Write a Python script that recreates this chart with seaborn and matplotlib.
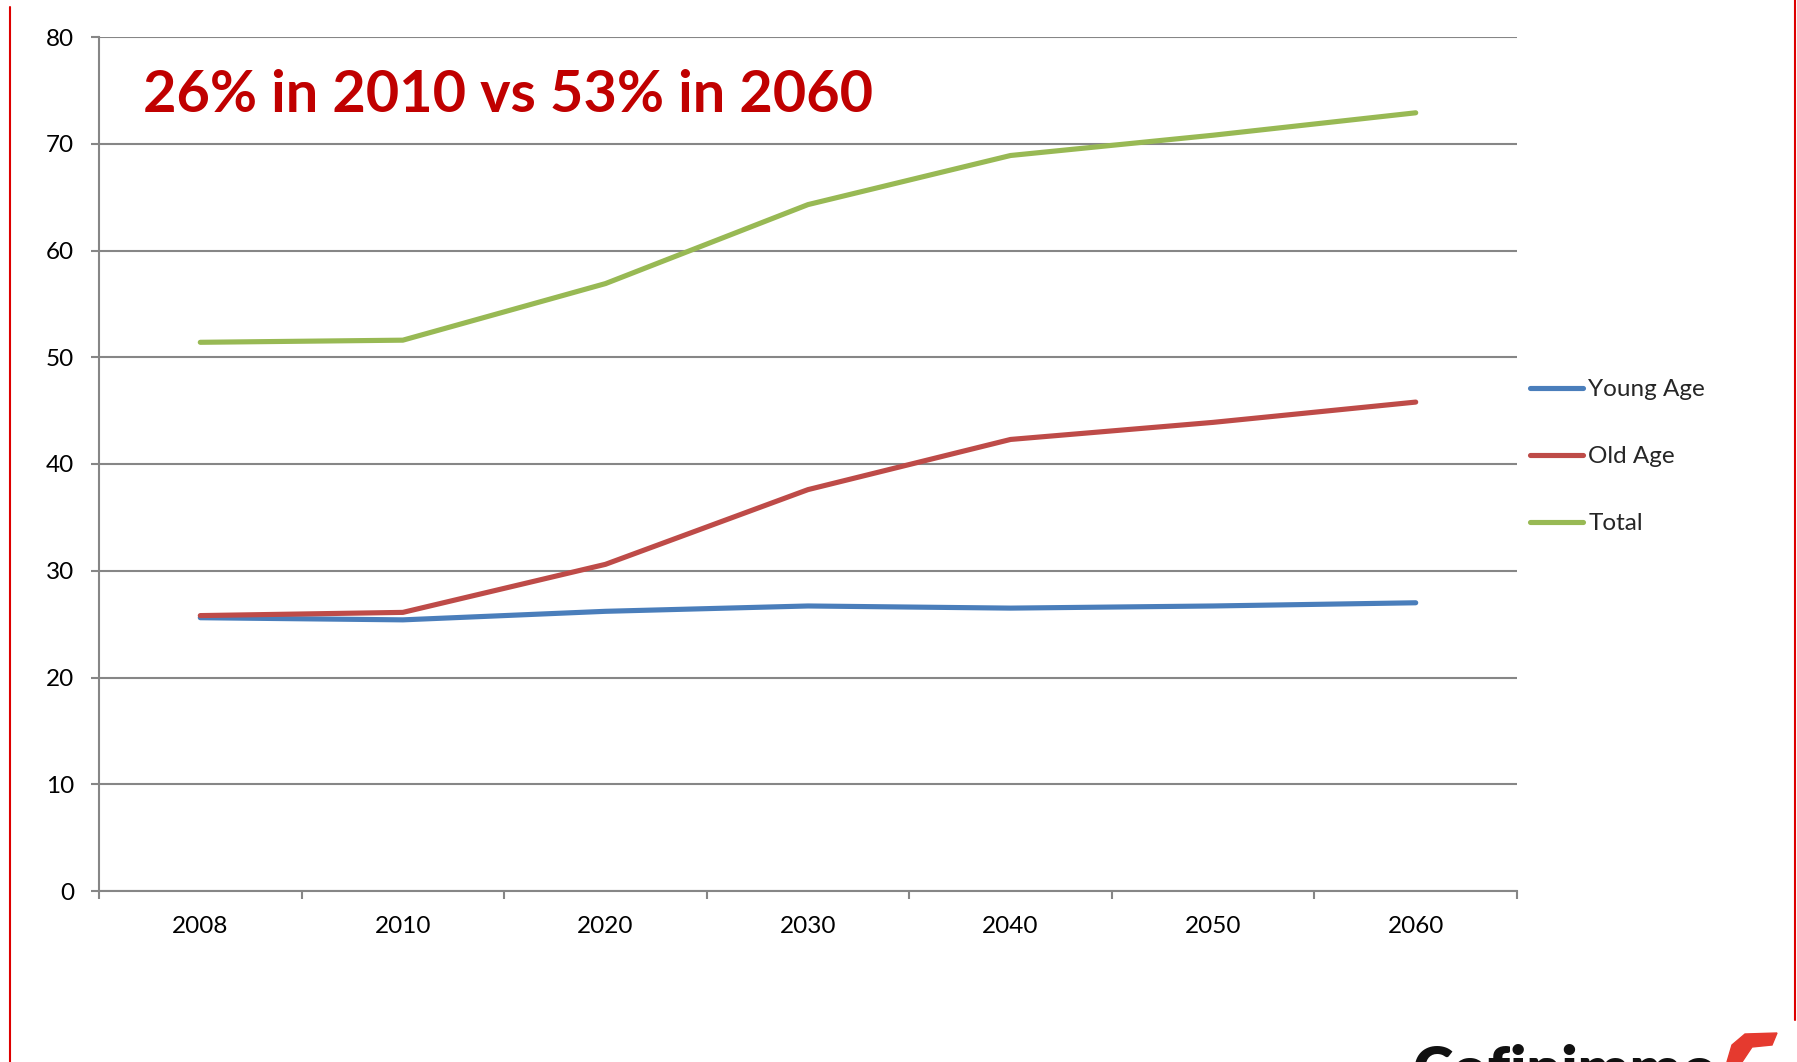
import matplotlib
matplotlib.use("Agg")
import matplotlib.pyplot as plt
from matplotlib.lines import Line2D
from matplotlib.patches import Polygon
import seaborn as sns
import pandas as pd

years = ["2008", "2010", "2020", "2030", "2040", "2050", "2060"]
young_age = [25.6, 25.4, 26.2, 26.7, 26.5, 26.7, 27.0]
old_age = [25.8, 26.1, 30.6, 37.6, 42.3, 43.9, 45.8]
total = [51.4, 51.6, 56.9, 64.3, 68.9, 70.8, 72.9]
series_names = ["Young Age", "Old Age", "Total"]
y_ticks = [0, 10, 20, 30, 40, 50, 60, 70, 80]
headline = "26% in 2010 vs 53% in 2060"

palette = {"Young Age": "#4A7EBB", "Old Age": "#BE4B48", "Total": "#98B954"}
grid_col = "#868686"

df = pd.DataFrame({
    "Year": years * 3,
    "Value": young_age + old_age + total,
    "Series": [s for s in series_names for _ in years],
})

sns.set_theme(style="white")
plt.rcParams["font.family"] = ["Lato", "DejaVu Sans"]

W, H = 1797, 1062
fig = plt.figure(figsize=(W / 100, H / 100), dpi=100)
ax = fig.add_axes([99 / W, 1 - 891 / H, (1517 - 99) / W, (891 - 37) / H])

sns.lineplot(data=df, x="Year", y="Value", hue="Series", hue_order=series_names,
             palette=palette, sort=False, linewidth=3.7, ax=ax, legend=False,
             solid_capstyle="round")

ax.set_xlim(-0.5, len(years) - 0.5)
ax.set_ylim(0, 80)
ax.set_yticks(y_ticks)
ax.set_yticklabels([str(v) for v in y_ticks])
ax.yaxis.grid(True, color=grid_col, linewidth=1.5)
ax.set_axisbelow(True)

# category boundaries carry the tick marks, labels sit at the centres
ax.set_xticks([i - 0.5 for i in range(len(years) + 1)])
ax.set_xticklabels([])
ax.set_xticks(range(len(years)), minor=True)
ax.set_xticklabels(years, minor=True)
ax.tick_params(axis="x", which="major", direction="out", length=5.5, width=1.5,
               color=grid_col, bottom=True)
ax.tick_params(axis="x", which="minor", length=0, pad=18, labelsize=17.5,
               labelcolor="black")
ax.tick_params(axis="y", direction="out", length=5.8, width=1.5, color=grid_col,
               left=True, pad=12, labelsize=17.5, labelcolor="black")
ax.set_xlabel("")
ax.set_ylabel("")

for side in ["top", "right"]:
    ax.spines[side].set_visible(False)
for side in ["left", "bottom"]:
    ax.spines[side].set_color(grid_col)
    ax.spines[side].set_linewidth(1.5)

handles = [Line2D([0], [0], color=palette[s], lw=3.7, solid_capstyle="round")
           for s in series_names]
fig.legend(handles, series_names, loc="upper left",
           bbox_to_anchor=(1530 / W, 1 - 379 / H), frameon=False,
           fontsize=17.5, handlelength=2.2, handletextpad=0.2, labelspacing=1.9,
           borderaxespad=0, borderpad=0)

ax.text((143 - 99) / 1418, (891 - 112) / 854, headline, transform=ax.transAxes,
        fontsize=41.5, fontweight="bold", color="#C00000", va="baseline",
        ha="left")

# page frame lines
fig.add_artist(Line2D([10 / W, 10 / W], [0, 1 - 7 / H], color="#DD0000", lw=1.5))
fig.add_artist(Line2D([1795 / W, 1795 / W], [1 - 1020 / H, 1], color="#DD0000", lw=1.5))

# company mark at the bottom edge
fig.text(1412 / W, 1 - 1044 / H, "Cofinimmo", fontsize=44, fontweight="heavy",
         color="#111111", va="top", ha="left", family=["Lato", "DejaVu Sans"])
mark = Polygon([[1745 / W, 1 - 1034 / H], [1777 / W, 1 - 1033 / H],
                [1772 / W, 1 - 1045 / H], [1752 / W, 1 - 1047 / H],
                [1742 / W, 1 - 1062 / H], [1727 / W, 1 - 1062 / H],
                [1732 / W, 1 - 1045 / H]],
               closed=True, transform=fig.transFigure, color="#E53A2F")
fig.add_artist(mark)

fig.savefig("out.png", dpi=100, facecolor="white")
